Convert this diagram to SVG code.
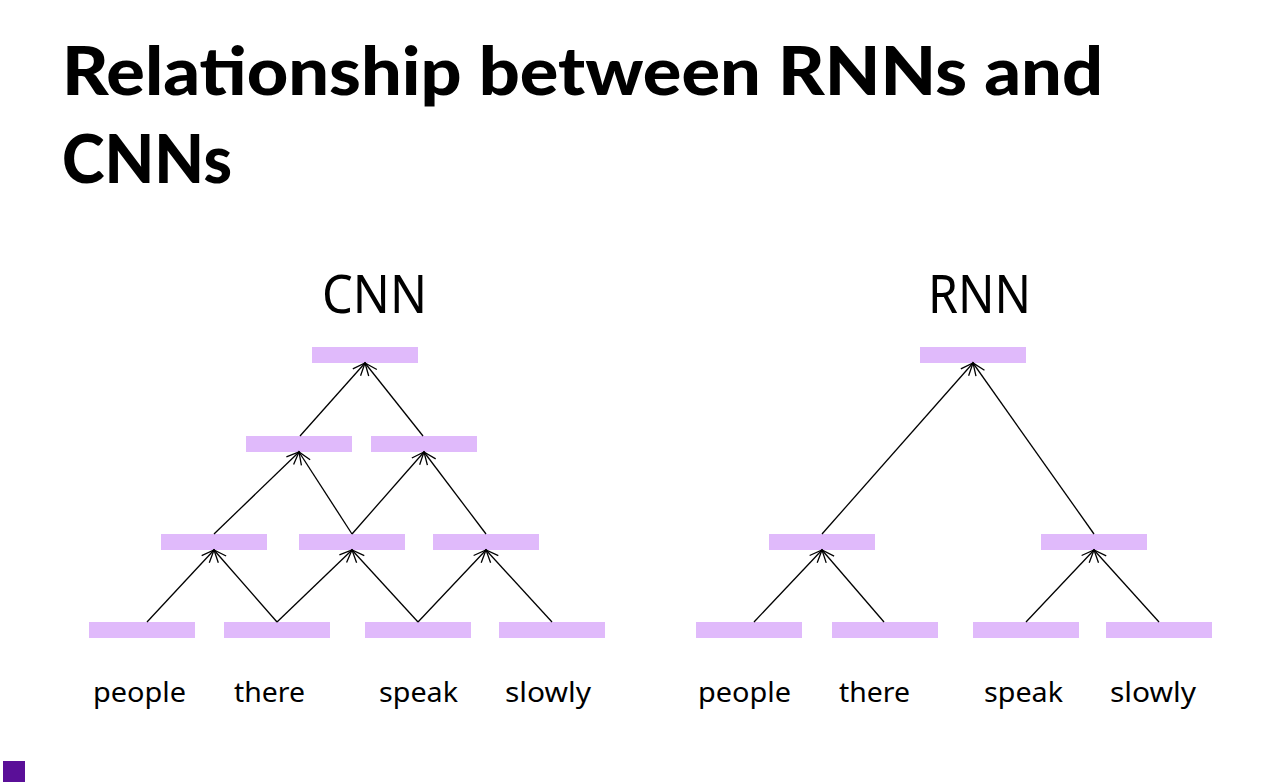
<svg xmlns="http://www.w3.org/2000/svg" width="1261" height="782" viewBox="0 0 1261 782">
<style>
.title{font-family:"Lato","Liberation Sans",sans-serif;font-weight:900;font-size:66px;fill:#000}
.head{font-family:"Noto Sans","Open Sans","Liberation Sans",sans-serif;font-size:52px;fill:#000;text-anchor:start}
.word{font-family:"Noto Sans","Open Sans","Liberation Sans",sans-serif;font-size:28px;fill:#000}
.node rect{fill:#E0BAFB}
.edges line{stroke:#000;stroke-width:1.3;marker-end:url(#arr)}
</style>
<defs>
<marker id="arr" markerUnits="userSpaceOnUse" viewBox="-14 -7 16 14" refX="0" refY="0" markerWidth="16" markerHeight="14" orient="auto">
<path d="M-12.5,-5.2 L0,0 L-12.5,5.2" fill="none" stroke="#000" stroke-width="1.3"/>
</marker>
</defs>
<rect width="1261" height="782" fill="#fff"/>
<text class="title" x="62" y="95" textLength="1041" lengthAdjust="spacingAndGlyphs">Relationship between RNNs and</text>
<text class="title" x="62" y="183" textLength="170" lengthAdjust="spacingAndGlyphs">CNNs</text>
<text class="head" x="322" y="313" textLength="105" lengthAdjust="spacingAndGlyphs">CNN</text>
<text class="head" x="928" y="313" textLength="103" lengthAdjust="spacingAndGlyphs">RNN</text>

<g id="cnn-top" class="node"><rect x="312" y="347" width="106" height="16"/></g>
<g id="cnn-l2a" class="node"><rect x="246" y="436" width="106" height="16"/></g>
<g id="cnn-l2b" class="node"><rect x="371" y="436" width="106" height="16"/></g>
<g id="cnn-l3a" class="node"><rect x="161" y="534" width="106" height="16"/></g>
<g id="cnn-l3b" class="node"><rect x="299" y="534" width="106" height="16"/></g>
<g id="cnn-l3c" class="node"><rect x="433" y="534" width="106" height="16"/></g>
<g id="cnn-people" class="node"><rect x="89" y="622" width="106" height="16"/><text class="word" x="93" y="702" textLength="93" lengthAdjust="spacingAndGlyphs">people</text></g>
<g id="cnn-there" class="node"><rect x="224" y="622" width="106" height="16"/><text class="word" x="234" y="702" textLength="71" lengthAdjust="spacingAndGlyphs">there</text></g>
<g id="cnn-speak" class="node"><rect x="365" y="622" width="106" height="16"/><text class="word" x="379" y="702" textLength="79" lengthAdjust="spacingAndGlyphs">speak</text></g>
<g id="cnn-slowly" class="node"><rect x="499" y="622" width="106" height="16"/><text class="word" x="505" y="702" textLength="86" lengthAdjust="spacingAndGlyphs">slowly</text></g>

<g id="rnn-top" class="node"><rect x="920" y="347" width="106" height="16"/></g>
<g id="rnn-l3a" class="node"><rect x="769" y="534" width="106" height="16"/></g>
<g id="rnn-l3b" class="node"><rect x="1041" y="534" width="106" height="16"/></g>
<g id="rnn-people" class="node"><rect x="696" y="622" width="106" height="16"/><text class="word" x="698" y="702" textLength="93" lengthAdjust="spacingAndGlyphs">people</text></g>
<g id="rnn-there" class="node"><rect x="832" y="622" width="106" height="16"/><text class="word" x="839" y="702" textLength="71" lengthAdjust="spacingAndGlyphs">there</text></g>
<g id="rnn-speak" class="node"><rect x="973" y="622" width="106" height="16"/><text class="word" x="984" y="702" textLength="79" lengthAdjust="spacingAndGlyphs">speak</text></g>
<g id="rnn-slowly" class="node"><rect x="1106" y="622" width="106" height="16"/><text class="word" x="1110" y="702" textLength="86" lengthAdjust="spacingAndGlyphs">slowly</text></g>

<g id="connectors" class="edges">
<line x1="147" y1="622" x2="214" y2="550"/>
<line x1="277" y1="622" x2="214" y2="550"/>
<line x1="277" y1="622" x2="352" y2="550"/>
<line x1="418" y1="622" x2="352" y2="550"/>
<line x1="418" y1="622" x2="486" y2="550"/>
<line x1="552" y1="622" x2="486" y2="550"/>
<line x1="214" y1="534" x2="299" y2="452"/>
<line x1="352" y1="534" x2="299" y2="452"/>
<line x1="352" y1="534" x2="424" y2="452"/>
<line x1="486" y1="534" x2="424" y2="452"/>
<line x1="300" y1="436" x2="365" y2="363"/>
<line x1="423" y1="436" x2="365" y2="363"/>
<line x1="754" y1="622" x2="822" y2="550"/>
<line x1="884" y1="622" x2="822" y2="550"/>
<line x1="1026" y1="622" x2="1094" y2="550"/>
<line x1="1159" y1="622" x2="1094" y2="550"/>
<line x1="822" y1="534" x2="973" y2="363"/>
<line x1="1094" y1="534" x2="973" y2="363"/>
</g>
<rect x="3" y="761" width="22" height="21" fill="#5A0F98"/>
</svg>
